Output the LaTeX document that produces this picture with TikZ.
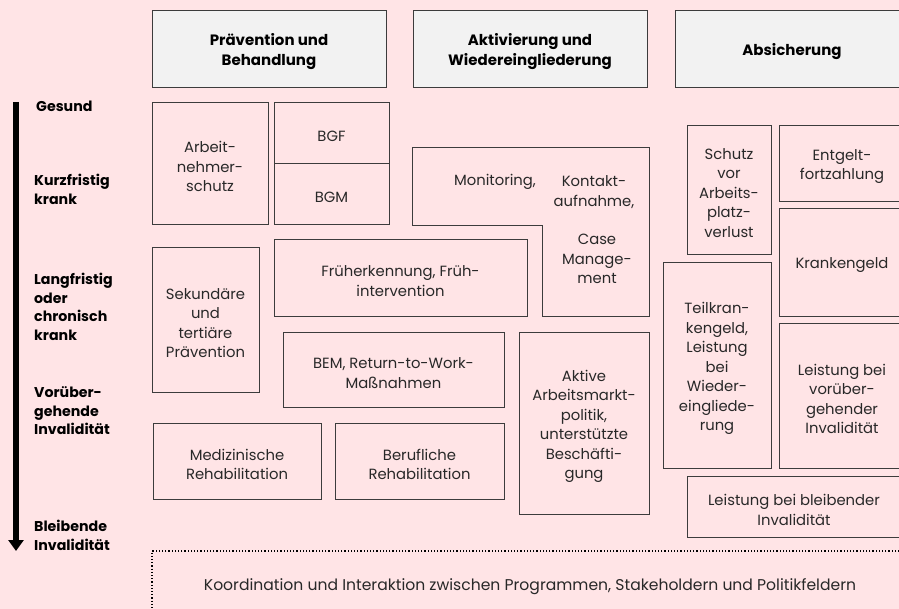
\documentclass[tikz,border=0pt]{standalone}
\usepackage{fontspec}
\setmainfont{Poppins}
\usetikzlibrary{fit,arrows.meta}
\definecolor{bgpink}{RGB}{255,228,230}
\definecolor{hdrgrey}{RGB}{242,242,242}
\definecolor{edgecol}{RGB}{60,60,60}
\definecolor{txtcol}{RGB}{40,40,40}
\newcommand\bx[6]{%
  \node[box, fit={(#2,#3) (#4,#5)}] (#1) {};
  \node[boxtxt] (#1-t) at (#1.center) {#6};}
\newcommand\hx[6]{%
  \node[hdr, fit={(#2,#3) (#4,#5)}] (#1) {};
  \node[hdrtxt] (#1-t) at (#1.center) {#6};}
\begin{document}
\begin{tikzpicture}[x=1pt,y=-1pt,
  box/.style={draw=edgecol, line width=0.9pt, inner sep=0pt},
  hdr/.style={box, fill=hdrgrey},
  txt/.style={inner sep=0pt, align=center, text=txtcol, font=\fontsize{14.8}{19.5}\selectfont},
  boxtxt/.style={txt, yshift=-3.5pt},
  hdrtxt/.style={inner sep=0pt, align=center, text=black, yshift=-3pt,
    font=\fontsize{15}{20}\selectfont\bfseries},
  lbl/.style={anchor=west, align=left, inner sep=0pt, text=black,
    font=\fontsize{14.2}{18.5}\selectfont\bfseries},
]
\fill[bgpink] (0,0) rectangle (899,609);
\useasboundingbox (0,0) rectangle (899,609);
\clip (0,0) rectangle (899,609);

% headers
\hx{h1}{152}{10}{386}{87}{Prävention und\\Behandlung}
\hx{h2}{413}{10}{647}{87}{Aktivierung und\\Wiedereingliederung}
\hx{h3}{675}{10}{909}{87}{Absicherung}

% axis arrow
\coordinate (atop) at (16,102);
\coordinate (abot) at (16,551);
\draw[line width=5.5pt, -{Triangle[width=15pt,length=11pt]}] (atop) -- (abot);

% left labels
\node[lbl] (l1) at (36,106) {Gesund};
\node[lbl] (l2) at (34,189.5) {Kurzfristig\\krank};
\node[lbl] (l3) at (34,307) {Langfristig\\oder\\chronisch\\krank};
\node[lbl] (l4) at (34,411) {Vorüber-\\gehende\\Invalidität};
\node[lbl] (l5) at (34,535.5) {Bleibende\\Invalidität};

% column 1
\bx{anschutz}{152}{102}{268}{224}{Arbeit-\\nehmer-\\schutz}
\bx{bgf}{274}{102}{389}{163}{BGF}
\bx{bgm}{274}{163}{389}{224}{BGM}
\bx{sek}{152}{247}{259}{392}{Sekundäre\\und\\tertiäre\\Prävention}
\bx{frueh}{274}{239}{527}{316}{Früherkennung, Früh-\\intervention}
\bx{bem}{283}{332}{504}{407}{BEM, Return-to-Work-\\Maßnahmen}
\bx{med}{153}{423}{321}{499}{Medizinische\\Rehabilitation}
\bx{beruf}{335}{423}{504}{499}{Berufliche\\Rehabilitation}

% monitoring L-shape
\draw[draw=edgecol, line width=0.9pt] (412,147) -- (649,147) -- (649,316) -- (542,316) -- (542,225) -- (412,225) -- cycle;
\node[txt] (mon) at (495,182) {Monitoring,};
\node[txt] (kon) at (594,192) {Kontakt-\\aufnahme,};
\node[txt] (case) at (597,259) {Case\\Manage-\\ment};

\bx{aktiv}{519}{332}{649}{514}{Aktive\\Arbeitsmarkt-\\politik,\\unterstützte\\Beschäfti-\\gung}

% right column
\bx{schutz}{687}{125}{771}{254}{Schutz\\vor\\Arbeits-\\platz-\\verlust}
\bx{entg}{779}{125}{905}{201}{Entgelt-\\fortzahlung}
\bx{kg}{779}{208}{905}{316}{Krankengeld}
\bx{teil}{663}{262}{771}{468}{Teilkran-\\kengeld,\\Leistung\\bei\\Wieder-\\eingliede-\\rung}
\bx{vorueb}{779}{323}{905}{468}{Leistung bei\\vorüber-\\gehender\\Invalidität}
\bx{bleib}{687}{476}{901}{537}{Leistung bei bleibender\\Invalidität}

% coordination
\node[box, draw=black, line width=1.2pt, dotted, fit={(152,551) (908,615)}] (koord) {};
\node[boxtxt, font=\fontsize{15.6}{19.5}\selectfont] (koord-t) at (koord.center)
  {Koordination und Interaktion zwischen Programmen, Stakeholdern und Politikfeldern};
\end{tikzpicture}
\end{document}
